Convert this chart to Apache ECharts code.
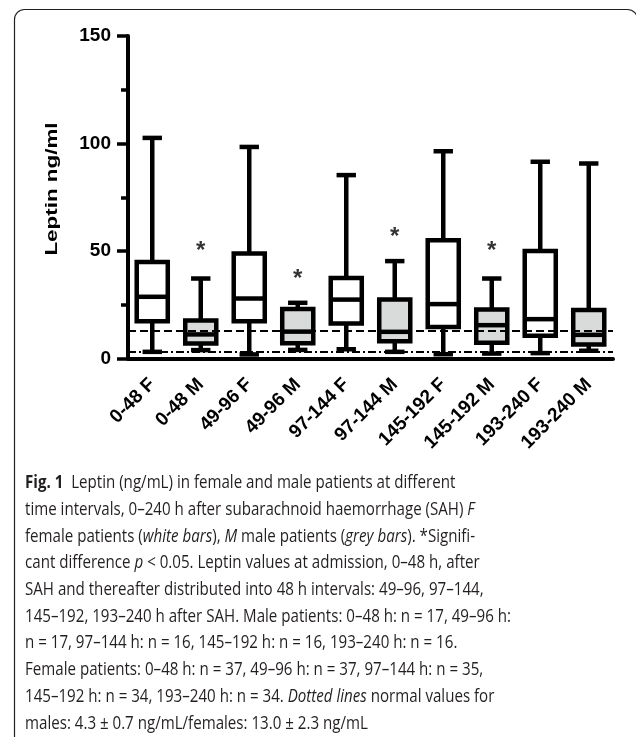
<!DOCTYPE html>
<html><head><meta charset="utf-8">
<script src="https://cdn.jsdelivr.net/npm/echarts@6/dist/echarts.min.js"></script>
<style>html,body{margin:0;padding:0;background:#fff}#c{width:636px;height:737px}</style>
</head><body><div id="c"></div>
<script>
// ---- data ----
const categories = ['0-48 F','0-48 M','49-96 F','49-96 M','97-144 F','97-144 M','145-192 F','145-192 M','193-240 F','193-240 M'];
const groupSex = ['F','M','F','M','F','M','F','M','F','M'];
// [min, Q1, median, Q3, max]
const boxMin    = [3.1, 3.9, 1.9, 4.0, 4.3, 3.1, 2.0, 2.3, 2.5, 3.6];
const boxQ1     = [17.3, 7.0, 17.3, 7.1, 16.3, 8.0, 14.7, 7.3, 10.6, 6.5];
const boxMedian = [28.7, 11.2, 27.9, 12.5, 27.4, 12.4, 25.3, 15.5, 18.3, 11.0];
const boxQ3     = [44.9, 17.7, 48.8, 23.0, 37.5, 27.4, 55.0, 22.8, 50.0, 22.6];
const boxMax    = [102.6, 37.2, 98.4, 25.9, 85.3, 45.3, 96.4, 37.2, 91.5, 90.7];
const asteriskY = [null, 52.8, null, 39.7, null, 59.0, null, 52.5, null, null];
const normalFemale = 12.7;
const normalMale = 3.1;
const yMin = 0, yMax = 150, yInterval = 50;
const yAxisTitle = 'Leptin ng/ml';
const captionLines = [
  '{b|Fig. 1}  Leptin (ng/mL) in female and male patients at different',
  'time intervals, 0–240 h after subarachnoid haemorrhage (SAH) {i|F}',
  'female patients ({i|white bars}), {i|M} male patients ({i|grey bars}). *Signifi-',
  'cant difference {i|p} < 0.05. Leptin values at admission, 0–48 h, after',
  'SAH and thereafter distributed into 48 h intervals: 49–96, 97–144,',
  '145–192, 193–240 h after SAH. Male patients: 0–48 h: n = 17, 49–96 h:',
  'n = 17, 97–144 h: n = 16, 145–192 h: n = 16, 193–240 h: n = 16.',
  'Female patients: 0–48 h: n = 37, 49–96 h: n = 37, 97–144 h: n = 35,',
  '145–192 h: n = 34, 193–240 h: n = 34. {i|Dotted lines} normal values for',
  'males: 4.3 ± 0.7 ng/mL/females: 13.0 ± 2.3 ng/mL'
];

// ---- styling ----
const FONT = 'Liberation Sans';
const CAP_FONT = 'Open Sans';
const CAP_SIZE = 18.5;
const GREY = '#d9dbdb';

function measure(txt, font){
  const c = document.createElement('canvas').getContext('2d');
  c.font = font;
  return c.measureText(txt).width;
}
const refLine = captionLines[5];
const capScale = 486 / measure(refLine, CAP_SIZE + 'px "' + CAP_FONT + '"');

const boxData = categories.map((c, i) => [i, boxMin[i], boxQ1[i], boxMedian[i], boxQ3[i], boxMax[i]]);
const starData = asteriskY.map((v, i) => v == null ? null : [i, v]).filter(d => d);

const chart = echarts.init(document.getElementById('c'), null, {renderer: 'canvas'});

const graphics = [
  {type: 'rect', shape: {x: 14.5, y: 9.5, width: 623, height: 900, r: 10},
   style: {fill: 'none', stroke: '#231f20', lineWidth: 1.2}, silent: true},
  {type: 'text', x: 52, y: 189, rotation: Math.PI / 2, scaleX: 1.4, scaleY: 1.05,
   style: {text: yAxisTitle, fontSize: 16, fontWeight: 'bold', fontFamily: FONT,
           fill: '#000', align: 'center', verticalAlign: 'middle'}}
];
captionLines.forEach((t, i) => {
  graphics.push({
    type: 'text', x: 25, y: 483 + i * 26.7, scaleX: capScale, scaleY: 1,
    style: {text: t, fontSize: CAP_SIZE, fontFamily: CAP_FONT, fill: '#231f20',
            align: 'left', verticalAlign: 'middle',
            rich: {b: {fontWeight: 'bold', fontSize: CAP_SIZE, fontFamily: CAP_FONT, fill: '#231f20'},
                   i: {fontStyle: 'italic', fontSize: CAP_SIZE, fontFamily: CAP_FONT, fill: '#231f20'}}}
  });
});

const option = {
  backgroundColor: '#fff',
  animation: false,
  grid: {left: 128, right: 23, top: 36, bottom: 378.5, outerBoundsMode: 'none'},
  xAxis: {
    type: 'category', data: categories, boundaryGap: true,
    axisLine: {lineStyle: {color: '#000', width: 4}},
    axisTick: {alignWithLabel: true, length: 10, lineStyle: {color: '#000', width: 3.5}},
    axisLabel: {rotate: 45, margin: 23, interval: 0, fontSize: 19, fontWeight: 'bold', fontFamily: FONT, color: '#000'},
    splitLine: {show: false}
  },
  yAxis: {
    type: 'value', min: yMin, max: yMax, interval: yInterval,
    axisLine: {show: true, lineStyle: {color: '#000', width: 4}},
    axisTick: {show: true, length: 11, lineStyle: {color: '#000', width: 3.5}},
    minorTick: {show: true, splitNumber: 2, length: 7, lineStyle: {color: '#000', width: 3.5}},
    axisLabel: {margin: 17, fontSize: 19, fontWeight: 'bold', fontFamily: FONT, color: '#000'},
    splitLine: {show: false}, minorSplitLine: {show: false}
  },
  graphic: graphics,
  series: [
    {
      type: 'custom', z: 3, data: boxData,
      encode: {x: 0, y: [1, 2, 3, 4, 5]},
      renderItem: function (params, api) {
        const idx = api.value(0);
        const lo = api.coord([idx, api.value(1)]);
        const q1 = api.coord([idx, api.value(2)]);
        const md = api.coord([idx, api.value(3)]);
        const q3 = api.coord([idx, api.value(4)]);
        const hi = api.coord([idx, api.value(5)]);
        const band = api.size([1, 0])[0];
        const hw = band * 0.32, cw = band * 0.2, x = lo[0];
        const fill = groupSex[idx] === 'M' ? GREY : '#fff';
        const ln = {stroke: '#000', lineWidth: 4.5};
        return {type: 'group', children: [
          {type: 'line', shape: {x1: x, y1: q3[1], x2: x, y2: hi[1]}, style: ln},
          {type: 'line', shape: {x1: x - cw, y1: hi[1], x2: x + cw, y2: hi[1]}, style: ln},
          {type: 'line', shape: {x1: x, y1: q1[1], x2: x, y2: lo[1]}, style: ln},
          {type: 'line', shape: {x1: x - cw, y1: lo[1], x2: x + cw, y2: lo[1]}, style: ln},
          {type: 'rect', shape: {x: x - hw, y: q3[1], width: 2 * hw, height: q1[1] - q3[1]},
           style: {fill: fill, stroke: '#000', lineWidth: 4.5}},
          {type: 'line', shape: {x1: x - hw, y1: md[1], x2: x + hw, y2: md[1]}, style: {stroke: '#000', lineWidth: 4.5}}
        ]};
      }
    },
    {
      type: 'line', z: 5, data: [], silent: true,
      markLine: {
        silent: true, symbol: 'none', animation: false,
        label: {show: false},
        data: [
          {yAxis: normalFemale, lineStyle: {color: '#000', width: 2, type: [8, 4]}},
          {yAxis: normalMale, lineStyle: {color: '#000', width: 2, type: [8, 3, 2, 3]}}
        ]
      }
    },
    {
      type: 'scatter', z: 6, data: starData, symbolSize: 0, silent: true,
      label: {show: true, position: 'inside', formatter: '*', offset: [0, 6],
              fontSize: 24, fontWeight: 'bold', fontFamily: FONT, color: '#000'}
    }
  ]
};
chart.setOption(option);
</script>
</body></html>
